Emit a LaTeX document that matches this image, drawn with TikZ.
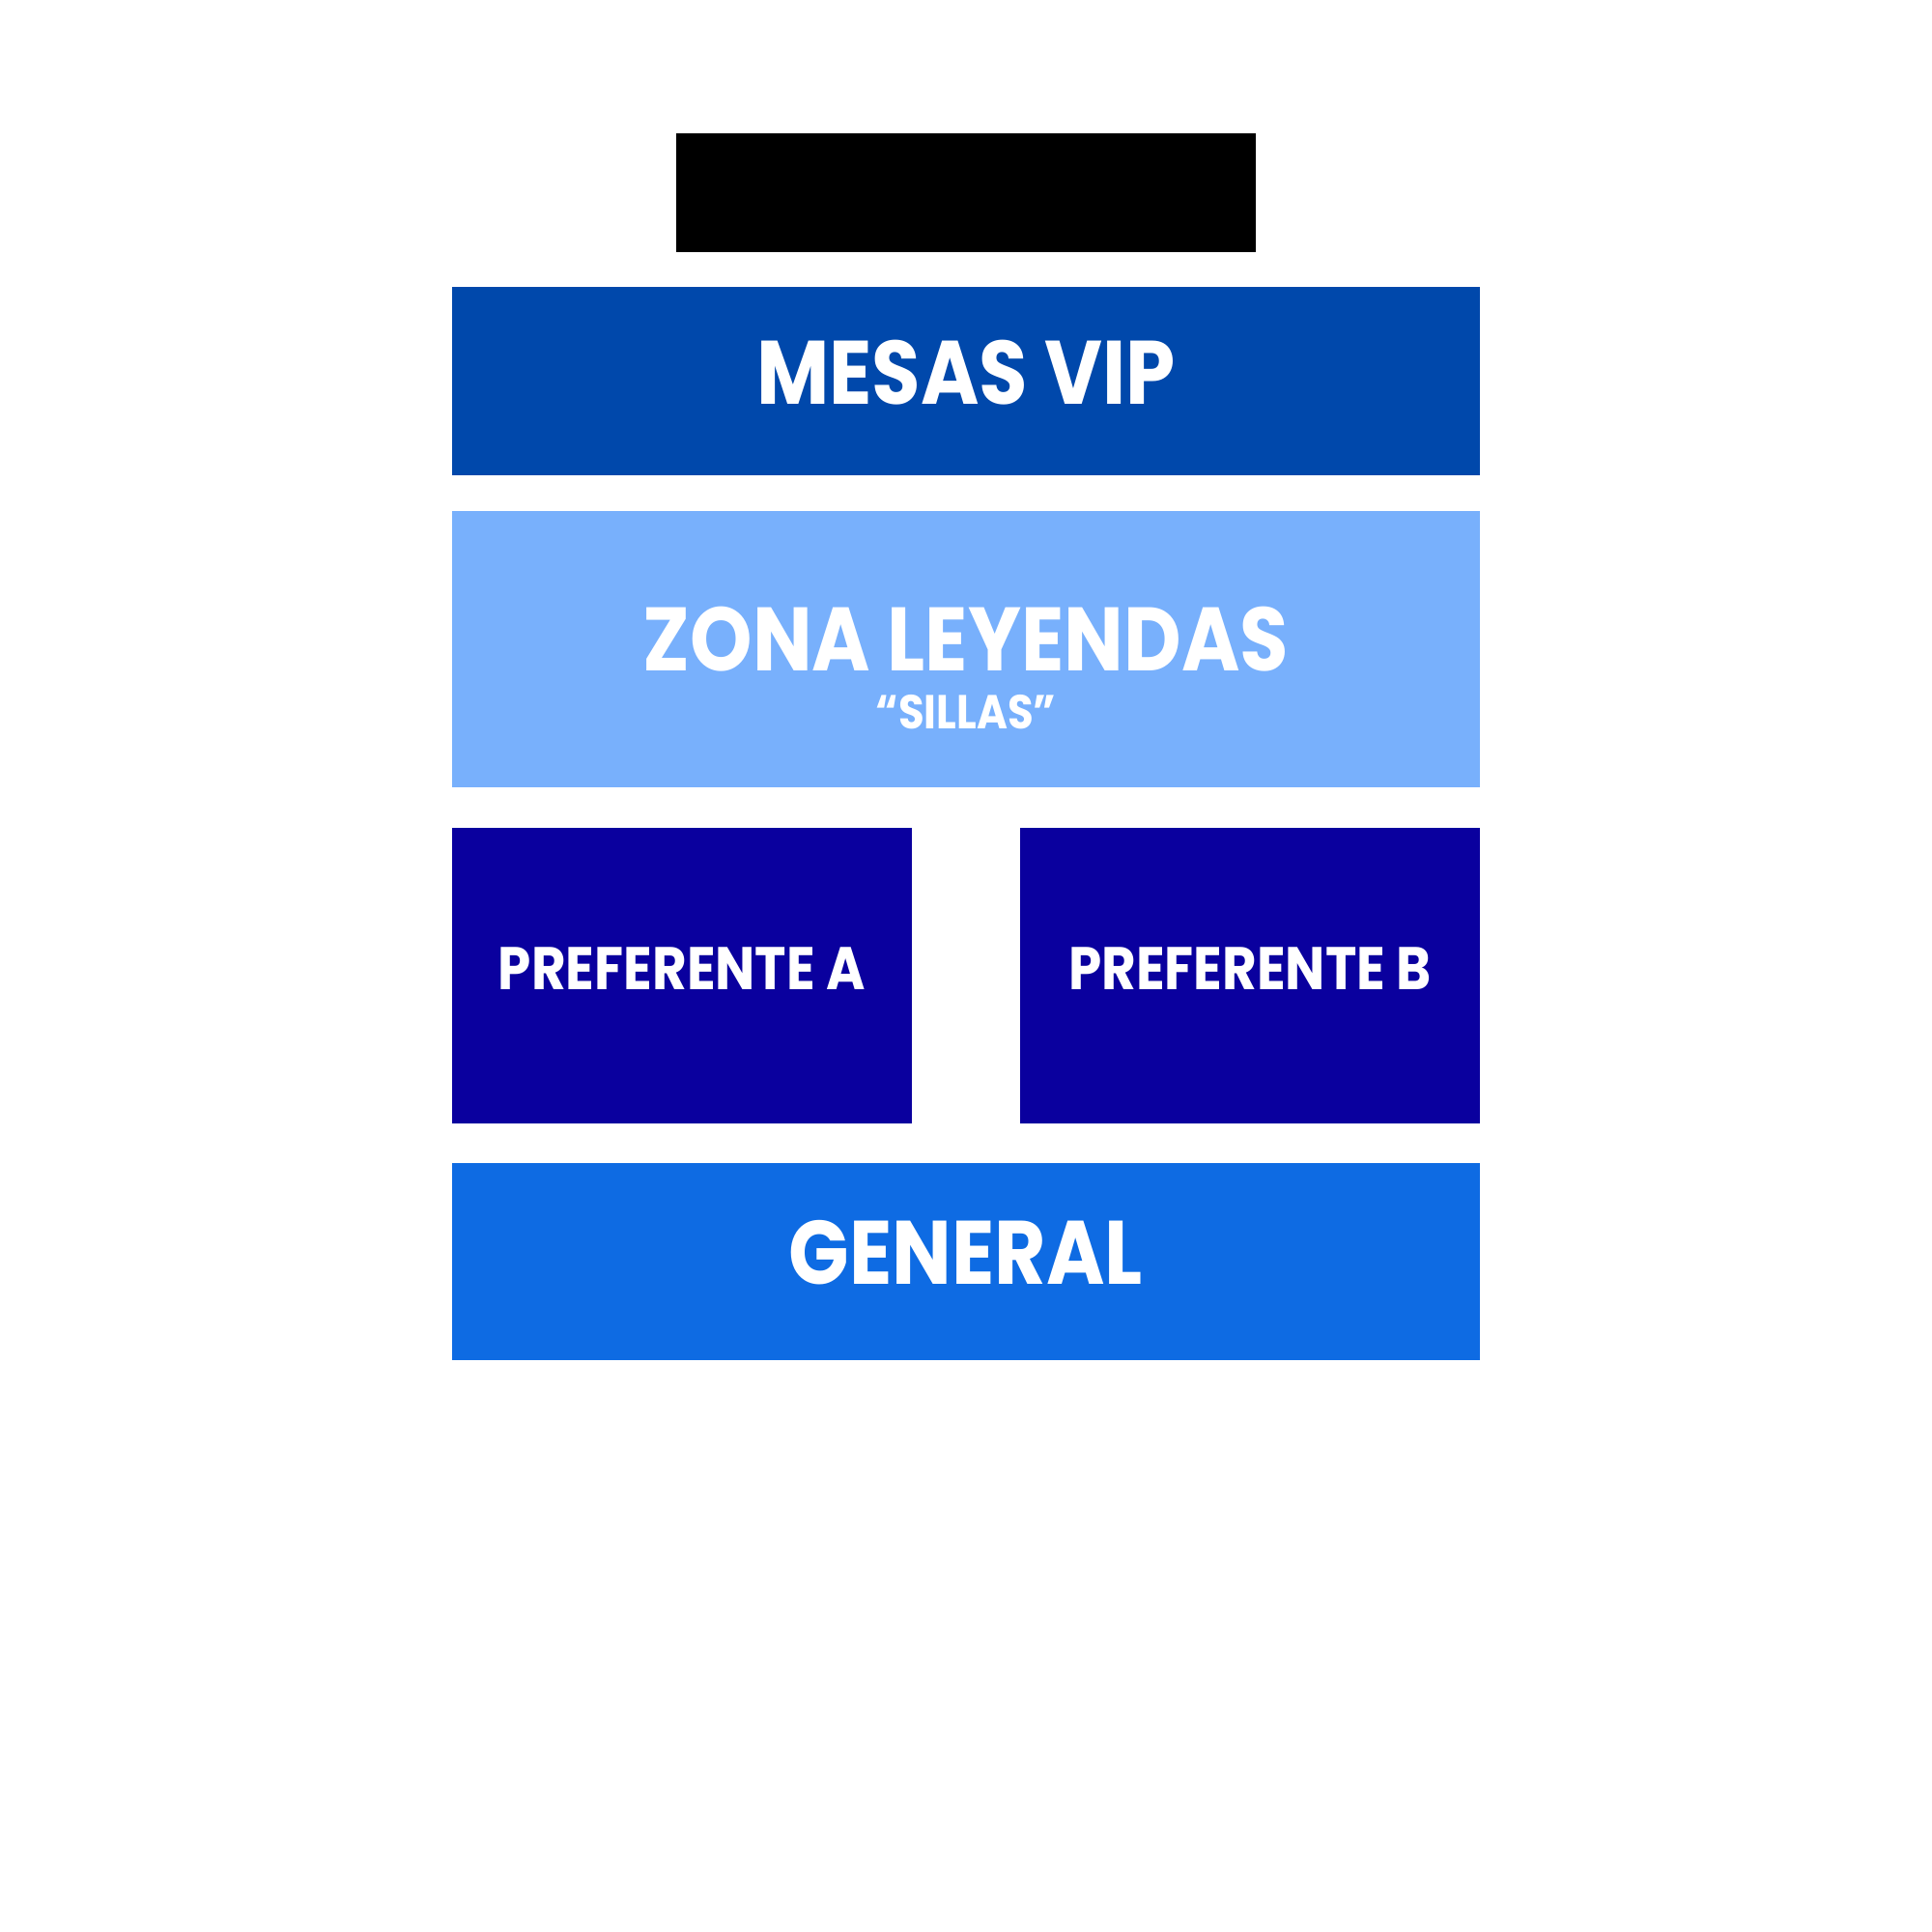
\documentclass[tikz,border=0pt]{standalone}
\usepackage{fontspec}
\newfontfamily\zonefont[FakeStretch=0.88]{Poppins}
\definecolor{vipblue}{HTML}{0048AB}
\definecolor{leyblue}{HTML}{78B0FC}
\definecolor{prefblue}{HTML}{0A009E}
\definecolor{genblue}{HTML}{0E6BE3}
\begin{document}
\begin{tikzpicture}
  [every node/.style={rectangle,inner sep=0pt,text=white,font=\zonefont\bfseries}]
  \tikzstyle{zone} = [minimum width=8.34cm,text depth=.15cm]
  \tikzstyle{halfzone} = [minimum width=3.73cm,minimum height=2.4cm,fill=prefblue,font=\zonefont\bfseries\fontsize{13.9}{14}\selectfont,text depth=.12cm]
  \fill[white] (0,0) rectangle (15.68,15.68);
  \useasboundingbox (0,0) rectangle (15.68,15.68);
  \node[fill=black,minimum width=4.7cm,minimum height=.97cm] (stage) at (7.84,14.115) {};
  \node[zone,minimum height=1.53cm,fill=vipblue,font=\zonefont\bfseries\fontsize{20.8}{21}\selectfont] (vip) at (7.84,12.585) {MESAS VIP};
  \node[zone,minimum height=2.24cm,fill=leyblue] (leyendas) at (7.84,10.41) {};
  \node[font=\zonefont\bfseries\fontsize{20.8}{21}\selectfont] (leyendastitle) at (7.84,10.49) {ZONA LEYENDAS};
  \node[font=\zonefont\bfseries\fontsize{11}{12}\selectfont] (sillas) at (7.84,9.90) {“SILLAS”};
  \node[halfzone] (prefa) at (5.535,7.76) {PREFERENTE A};
  \node[halfzone] (prefb) at (10.145,7.76) {PREFERENTE B};
  \node[zone,minimum height=1.6cm,fill=genblue,font=\zonefont\bfseries\fontsize{20.8}{21}\selectfont] (general) at (7.84,5.44) {GENERAL};
\end{tikzpicture}
\end{document}
